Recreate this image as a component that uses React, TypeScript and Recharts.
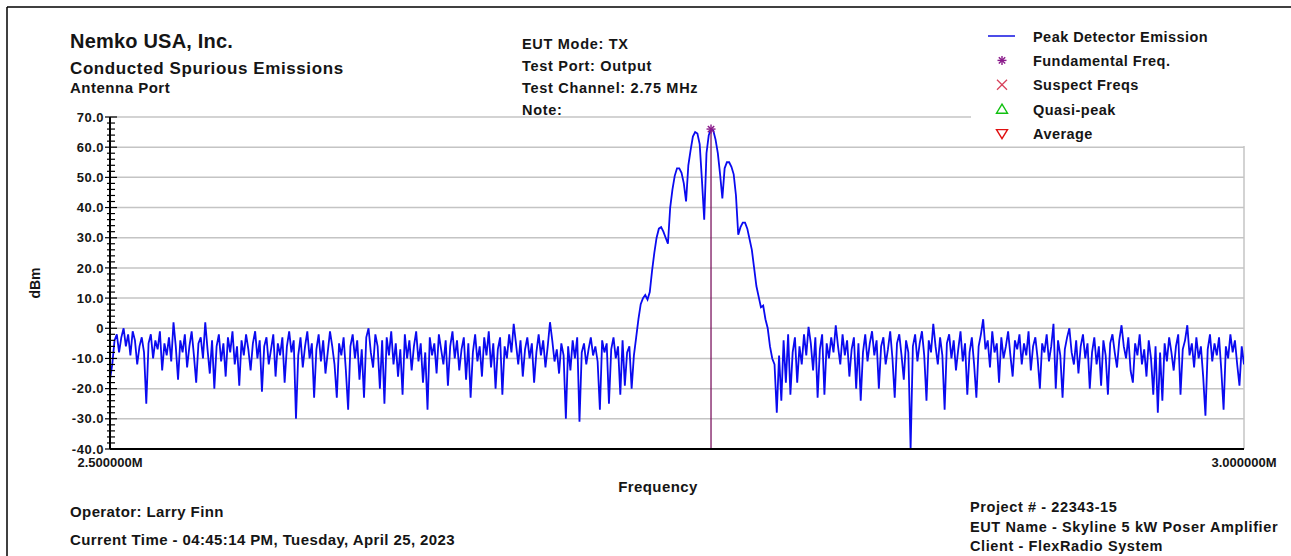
import React from 'react';
import {
  ComposedChart,
  Line,
  Scatter,
  XAxis,
  YAxis,
  ReferenceLine,
  Legend,
} from 'recharts';

// Sweep settings: 501 points from 2.5 MHz to 3.0 MHz
const SWEEP_START_MHZ = 2.5;
const SWEEP_STEP_MHZ = 0.001;

// Peak detector levels (dBm), below the carrier (2.500 – 2.731 MHz)
const noiseBelowCarrier = [
  -17, -12, -4, -2, -8, -3, 0, -6, -2, -9, -1, -4, -12, -6, -3, -8, -25, -5, -2, -10,
  -4, -7, -1, -14, -5, -9, -3, -11, 2, -6, -17, -4, -8, -2, -13, -6, -1, -9, -18, -5,
  -3, -10, 2, -7, -15, -4, -20, -6, -2, -11, -5, -16, -3, -8, -1, -12, -6, -19, -4, -9,
  -2, -7, -14, -5, -1, -10, -4, -21, -6, -3, -12, -7, -2, -16, -5, -9, -3, -18, -6, -1,
  -8, -4, -30, -9, -3, -13, -6, -1, -10, -5, -23, -7, -2, -11, -4, -15, -8, -1, -6, -12,
  -23, -5, -9, -3, -14, -27, -6, -2, -10, -4, -17, -7, -23, -3, 0, -8, -13, -2, -6, -20,
  -4, -25, -3, -9, -1, -12, -5, -16, -7, -22, -2, -10, -4, -14, -6, -1, -11, -5, -18, -8,
  -27, -3, -9, -5, -15, -2, -7, -12, -4, -19, -6, -1, -10, -4, -14, -7, -3, -17, -5, -23,
  -8, -2, -11, -6, -16, -3, -9, -1, -13, -5, -20, -7, -3, -22, -6, -10, -2, -8, 1.5, -5,
  -12, -4, -16, -7, -3, -10, -5, -18, -8, -2, -9, -4, -13, -6, 2, -4, -11, -7, -15, -5,
  -9, -30, -6, -14, -4, -10, -3, -31, -8, -5, -12, -7, -3, -9, -6, -11, -27, -4, -8, -5,
  -25, -7, -3, -10, -6, -22, -4, -19, -8, -6, -20, -9,
];

// Modulated carrier (2.732 – 2.800 MHz)
const carrierLevels = [
  -3, 3, 8, 10, 11, 9.5, 12, 19, 25, 30, 33, 33.5, 32, 30, 28, 40, 46, 50.5, 53, 53,
  51.5, 48, 42, 54, 59, 63.5, 65, 64.5, 61, 49, 36, 58, 64, 66, 65.5, 62.5, 58, 51, 43, 53,
  55, 55, 53.5, 51, 44, 31, 33.5, 35, 35, 33, 29.5, 26, 20, 14, 10.5, 7, 7.5, 3, 0, -6,
  -10, -12, -28, -9, -24, -4, -18, -2, -22,
];

// Peak detector levels above the carrier (2.801 – 3.000 MHz)
const noiseAboveCarrier = [
  -8, -3, -18, -6, -12, -2, -9, 0.5, -5, -14, -3, -23, -7, -2, -22, -5, -10, -3, -8, 1,
  -6, -12, -2, -9, -4, -16, -7, -3, -20, -5, -24, -8, -2, -11, -5, -1, -9, -4, -20, -6,
  -3, -12, -7, -1, -10, -23, -5, -2, -9, -17, -4, -8, -40, -6, -2, -11, -5, -1, -9, -24,
  -4, -8, 1.5, -6, -12, -3, -9, -27, -5, -2, -10, -4, -14, -7, -1, -11, -5, -22, -8, -3,
  -12, -23, -6, -2, 3, -7, -4, -13, -1, -8, -5, -18, -3, -10, -6, -1, -9, -16, -4, -7,
  -2, -12, -5, -9, -1, -14, -6, -3, -10, -20, -5, -8, -2, -11, -6, 1.5, -20, -4, -9, -23,
  -7, -3, 0, -8, -12, -4, -15, -6, -2, -10, -5, -20, -8, -3, -12, -6, -19, -4, -9, -22,
  -5, -2, -8, -13, -4, 1, -6, -10, -3, -14, -18, -5, -9, -2, -12, -7, -16, -4, -10, -22,
  -6, -28, -8, -24, -5, -11, -3, -8, -14, -6, -2, -22, -7, -4, 1, -9, -5, -13, -3, -10,
  -6, -16, -29, -7, -2, -11, -5, -9, -3, -14, -27, -6, -10, -2, -8, -4, -12, -19, -6, -12,
];

// Fundamental frequency marker
const fundamental = [{ f: 2.765, level: 66 }];

// Axis ticks
const xTicks = [2.5, 3.0];
const yMajorTicks = [70, 60, 50, 40, 30, 20, 10, 0, -10, -20, -30, -40];
const gridLevels = [70, 60, 50, 40, 30, 20, 10, 0, -10, -20, -30];

const legendItems = [
  { name: 'Peak Detector Emission', symbol: 'line', color: '#1010e0' },
  { name: 'Fundamental Freq.', symbol: 'asterisk', color: '#8a1a8a' },
  { name: 'Suspect Freqs', symbol: 'cross', color: '#d8405a' },
  { name: 'Quasi-peak', symbol: 'triangle', color: '#10c010' },
  { name: 'Average', symbol: 'triangleDown', color: '#e01010' },
];

const headerLeft = [
  { text: 'Nemko USA, Inc.', y: 47.5, size: 20, spacing: 0.2 },
  { text: 'Conducted Spurious Emissions', y: 74, size: 17, spacing: 0.6 },
  { text: 'Antenna Port', y: 92.5, size: 15, spacing: 0.5 },
];
const headerMiddle = ['EUT Mode: TX', 'Test Port: Output', 'Test Channel: 2.75 MHz', 'Note:'];
const footerLeft = ['Operator: Larry Finn', 'Current Time - 04:45:14 PM, Tuesday, April 25, 2023'];
const footerRight = ['Project # - 22343-15', 'EUT Name - Skyline 5 kW Poser Amplifier', 'Client - FlexRadio System'];

const sweep = [...noiseBelowCarrier, ...carrierLevels, ...noiseAboveCarrier].map((level, i) => ({
  f: Number((SWEEP_START_MHZ + i * SWEEP_STEP_MHZ).toFixed(4)),
  level,
}));

const yAllTicks: number[] = [];
for (let v = -40; v <= 70; v += 2) yAllTicks.push(v);

const FONT = '"Liberation Sans", Arial, Helvetica, sans-serif';
const INK = '#151515';

const YTick = (props: any) => {
  const { x, y, payload } = props;
  const v = payload.value as number;
  const major = yMajorTicks.includes(v);
  return (
    <g>
      <line x1={major ? x - 5 : x - 3} x2={major ? x + 7 : x + 5} y1={y} y2={y} stroke="#000" strokeWidth={1.2} />
      {major && (
        <text x={x - 6} y={y} dy="0.36em" textAnchor="end" fontFamily={FONT} fontSize={13} letterSpacing={0.5} fontWeight="bold" fill={INK}>
          {v === 0 ? '0' : v.toFixed(1)}
        </text>
      )}
    </g>
  );
};

const XTick = (props: any) => {
  const { x, y, payload } = props;
  return (
    <text x={x} y={y + 18} textAnchor="middle" fontFamily={FONT} fontSize={13} fontWeight="bold" fill={INK}>
      {(payload.value as number).toFixed(6) + 'M'}
    </text>
  );
};

const Asterisk = ({ cx, cy, r = 4.5, color }: { cx: number; cy: number; r?: number; color: string }) => {
  const d = r * 0.707;
  return (
    <g stroke={color} strokeWidth={1.4}>
      <line x1={cx} y1={cy - r} x2={cx} y2={cy + r} />
      <line x1={cx - r} y1={cy} x2={cx + r} y2={cy} />
      <line x1={cx - d} y1={cy - d} x2={cx + d} y2={cy + d} />
      <line x1={cx - d} y1={cy + d} x2={cx + d} y2={cy - d} />
    </g>
  );
};

const FundamentalShape = (props: any) => <Asterisk cx={props.cx} cy={props.cy} color="#8a1a8a" />;

const LegendSymbol = ({ kind, color, cx, cy }: { kind: string; color: string; cx: number; cy: number }) => {
  if (kind === 'line') return <line x1={cx - 14} x2={cx + 13} y1={cy} y2={cy} stroke={color} strokeWidth={1.5} />;
  if (kind === 'asterisk') return <Asterisk cx={cx} cy={cy} r={4.5} color={color} />;
  if (kind === 'cross')
    return (
      <g stroke={color} strokeWidth={1.3}>
        <line x1={cx - 5} y1={cy - 5} x2={cx + 5} y2={cy + 5} />
        <line x1={cx - 5} y1={cy + 5} x2={cx + 5} y2={cy - 5} />
      </g>
    );
  if (kind === 'triangle')
    return <polygon points={`${cx},${cy - 5} ${cx + 5.5},${cy + 4} ${cx - 5.5},${cy + 4}`} fill="none" stroke={color} strokeWidth={1.4} />;
  return <polygon points={`${cx - 5.5},${cy - 4} ${cx + 5.5},${cy - 4} ${cx},${cy + 5}`} fill="none" stroke={color} strokeWidth={1.4} />;
};

const LegendBox = () => (
  <svg width={280} height={126} style={{ display: 'block' }}>
    {legendItems.map((item, i) => {
      const base = 21.5 + i * 24.4;
      return (
        <g key={item.name}>
          <LegendSymbol kind={item.symbol} color={item.color} cx={31} cy={base - 5.5} />
          <text x={62} y={base} fontFamily={FONT} fontSize={14.5} letterSpacing={0.45} fontWeight="bold" fill={INK}>
            {item.name}
          </text>
        </g>
      );
    })}
  </svg>
);

const textProps = { fontFamily: FONT, fontWeight: 'bold' as const, fill: INK };

export default function App() {
  return (
    <div style={{ position: 'absolute', left: 0, top: 0, width: 1291, height: 556, background: '#fff', overflow: 'hidden' }}>
      <svg width={1291} height={556} style={{ position: 'absolute', left: 0, top: 0 }}>
        <line x1={7} y1={7} x2={1291} y2={7} stroke="#000" strokeWidth={1.5} />
        <line x1={7} y1={7} x2={7} y2={556} stroke="#000" strokeWidth={1.5} />
        {headerLeft.map((h) => (
          <text key={h.text} x={70} y={h.y} fontSize={h.size} letterSpacing={h.spacing} {...textProps}>
            {h.text}
          </text>
        ))}
        {headerMiddle.map((t, i) => (
          <text key={t} x={522} y={49.3 + i * 21.8} fontSize={14.5} letterSpacing={0.7} {...textProps}>
            {t}
          </text>
        ))}
        <text x={658} y={492} textAnchor="middle" fontSize={15} letterSpacing={0.4} {...textProps}>
          Frequency
        </text>
        <text x={35} y={283} textAnchor="middle" dy="0.35em" transform="rotate(-90 35 283)" fontSize={14} {...textProps}>
          dBm
        </text>
        {footerLeft.map((t, i) => (
          <text key={t} x={70} y={517 + i * 28} fontSize={15} letterSpacing={0.4} {...textProps}>
            {t}
          </text>
        ))}
        {footerRight.map((t, i) => (
          <text key={t} x={970} y={512 + i * 19.5} fontSize={14.5} letterSpacing={0.6} {...textProps}>
            {t}
          </text>
        ))}
      </svg>
      <div style={{ position: 'absolute', left: 0, top: 0 }}>
        <ComposedChart
          width={1291}
          height={556}
          data={sweep}
          margin={{ top: 117, right: 47, bottom: 77, left: 0 }}
        >
          {gridLevels.map((g) => (
            <ReferenceLine key={g} y={g} stroke="#c4c4c4" strokeWidth={1.5} />
          ))}
          <ReferenceLine x={3.0} stroke="#c4c4c4" strokeWidth={1.5} />
          <XAxis
            dataKey="f"
            type="number"
            domain={[2.5, 3.0]}
            ticks={xTicks}
            tickLine={false}
            tickSize={0}
            tickMargin={0}
            height={30}
            axisLine={{ stroke: '#000', strokeWidth: 2 }}
            tick={<XTick />}
            interval={0}
            allowDataOverflow
          />
          <YAxis
            type="number"
            domain={[-40, 70]}
            ticks={yAllTicks}
            width={110}
            tickLine={false}
            tickSize={0}
            tickMargin={0}
            axisLine={{ stroke: '#000', strokeWidth: 2 }}
            tick={<YTick />}
            interval={0}
            allowDataOverflow
          />
          <Line
            dataKey="level"
            type="linear"
            stroke="#0a0af0"
            strokeWidth={1.8}
            dot={false}
            activeDot={false}
            isAnimationActive={false}
          />
          <ReferenceLine
            segment={[
              { x: fundamental[0].f, y: -40 },
              { x: fundamental[0].f, y: fundamental[0].level },
            ]}
            stroke="#7c1560"
            strokeWidth={1.3}
          />
          <Scatter data={fundamental} dataKey="level" shape={FundamentalShape} isAnimationActive={false} />
          <Legend
            layout="vertical"
            align="center"
            verticalAlign="middle"
            wrapperStyle={{ position: 'absolute', left: 971, top: 20, width: 280, height: 126, background: '#fff' }}
            content={() => <LegendBox />}
          />
        </ComposedChart>
      </div>
    </div>
  );
}
